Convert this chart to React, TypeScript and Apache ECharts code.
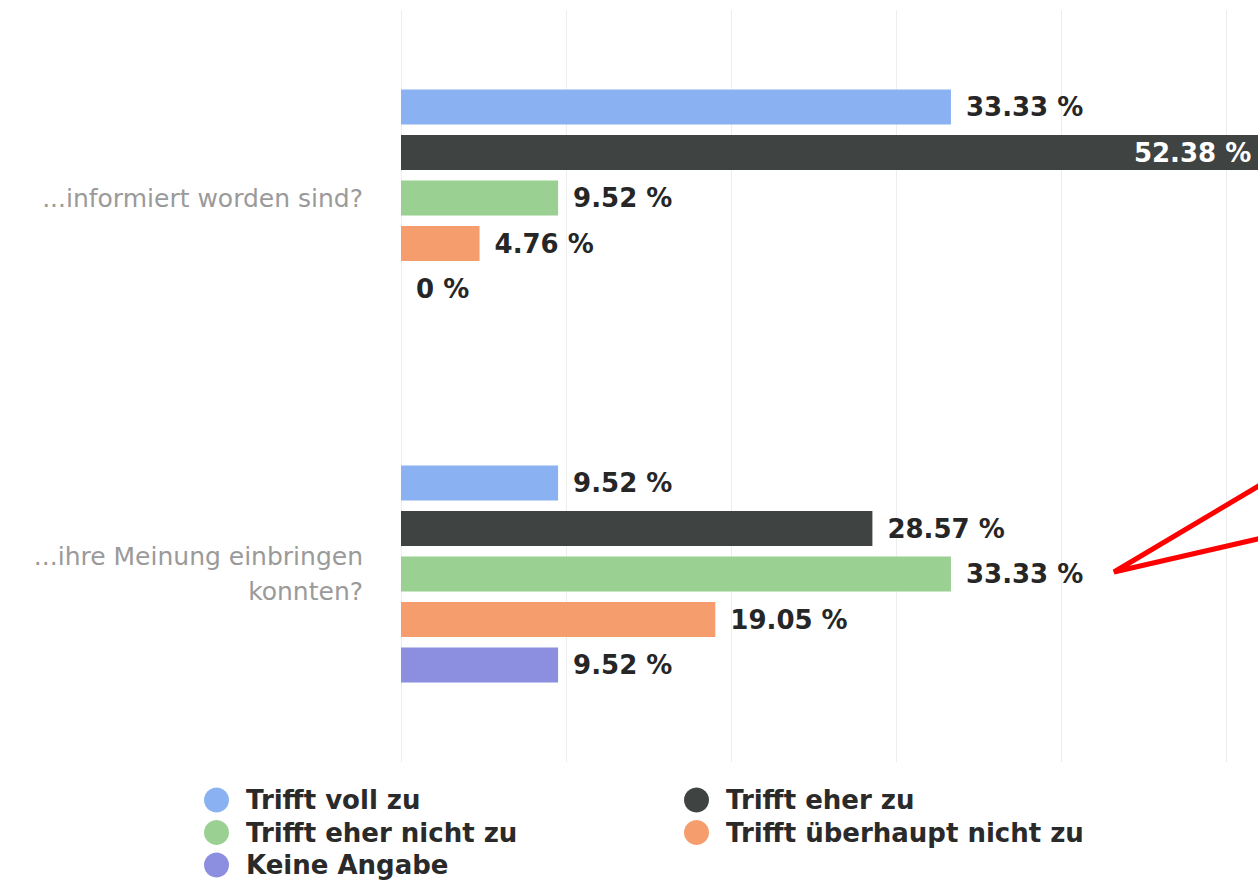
import React, { useEffect, useRef } from "react";
import * as echarts from "echarts";

const categories = ["...informiert worden sind?", "...ihre Meinung einbringen\nkonnten?"];
const seriesNames = [
  "Trifft voll zu",
  "Trifft eher zu",
  "Trifft eher nicht zu",
  "Trifft überhaupt nicht zu",
  "Keine Angabe",
];
const trifftVollZu = [33.33, 9.52];
const trifftEherZu = [52.38, 28.57];
const trifftEherNichtZu = [9.52, 33.33];
const trifftUeberhauptNichtZu = [4.76, 19.05];
const keineAngabe = [0, 9.52];
const colors = ["#8ab2f2", "#3f4442", "#9ad092", "#f59d6c", "#8c8edf"];

const FONT = "DejaVu Sans";

export default function App() {
  const ref = useRef<HTMLDivElement>(null);
  useEffect(() => {
    if (!ref.current) return;
    const chart = echarts.init(ref.current, null, { renderer: "svg" });
    const values = [trifftVollZu, trifftEherZu, trifftEherNichtZu, trifftUeberhauptNichtZu, keineAngabe];
    const labelBase = {
      show: true,
      position: "right",
      distance: 15,
      formatter: "{c} %",
      fontFamily: FONT,
      fontWeight: "bold",
      fontSize: 26,
      color: "#262626",
    };
    const series = seriesNames.map((name, i) => ({
      name,
      type: "bar",
      barWidth: 35,
      barGap: "30%",
      itemStyle: { color: colors[i] },
      label: labelBase,
      data: values[i].map((v) =>
        v > 50
          ? { value: v, label: { position: "insideRight", distance: 14, color: "#ffffff" } }
          : v
      ),
    }));
    const legendText = {
      fontFamily: FONT,
      fontWeight: "bold",
      fontSize: 26,
      color: "#2a2a2a",
      lineHeight: 26,
      padding: [0, 0, 0, 12],
    };
    const legendBase = {
      orient: "vertical",
      top: 787,
      height: 110,
      padding: 0,
      icon: "circle",
      itemWidth: 25,
      itemHeight: 25,
      itemGap: 6.5,
      textStyle: legendText,
      selectedMode: false,
    };
    chart.setOption({
      animation: false,
      backgroundColor: "#ffffff",
      grid: { left: 401, right: 0, top: 10, height: 752, containLabel: false },
      xAxis: {
        type: "value",
        min: 0,
        max: 60,
        interval: 10,
        axisLabel: { show: false },
        axisLine: { show: false },
        axisTick: { show: false },
        splitLine: { show: true, lineStyle: { color: "#ededed", width: 1 } },
      },
      yAxis: {
        type: "category",
        data: categories,
        inverse: true,
        axisLine: { show: false },
        axisTick: { show: false },
        axisLabel: {
          margin: 38,
          fontFamily: FONT,
          fontSize: 25,
          color: "#9a9a9a",
          lineHeight: 35,
          align: "right",
        },
      },
      legend: [
        { ...legendBase, left: 204, data: ["Trifft voll zu", "Trifft eher nicht zu", "Keine Angabe"] },
        { ...legendBase, left: 684, data: ["Trifft eher zu", "Trifft überhaupt nicht zu"] },
      ],
      graphic: [
        {
          type: "polyline",
          shape: { points: [[1262, 484], [1114, 572], [1262, 538]] },
          style: { stroke: "#ff0000", lineWidth: 5, fill: "none", lineJoin: "miter" },
          z: 100,
        },
      ],
      series,
    });
    return () => chart.dispose();
  }, []);
  return (
    <div
      ref={ref}
      style={{ position: "fixed", left: 0, top: 0, width: 1391, height: 900, background: "#fff" }}
    />
  );
}
